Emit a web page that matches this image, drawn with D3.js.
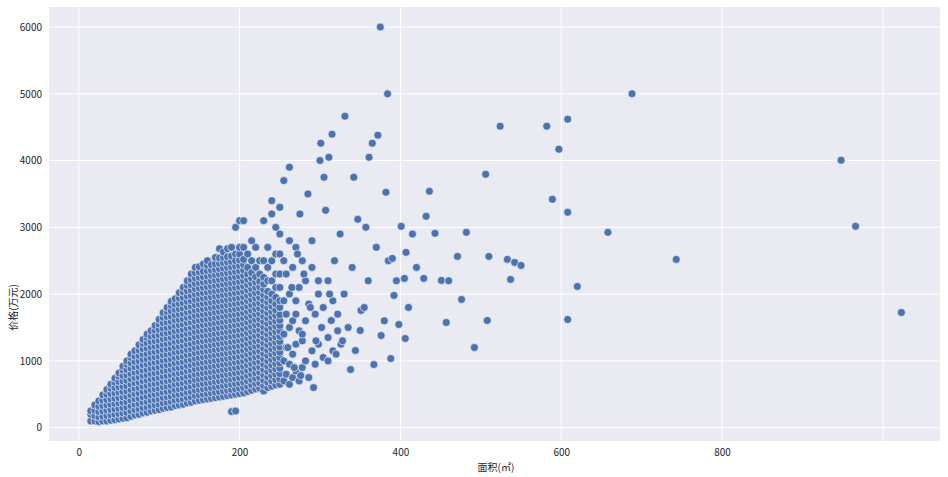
<!DOCTYPE html>
<html><head><meta charset="utf-8">
<script src="https://cdn.jsdelivr.net/npm/d3@7"></script>
<style>body{margin:0;background:#fff}text{font-family:"Noto Sans CJK SC","DejaVu Sans",sans-serif}</style>
</head><body><div id="chart"></div>
<script>
// dense cloud: one column per area value, prices
const denseAreas = [15,20,25,30,35,40,45,50,55,60,65,70,75,80,85,90,95,100,105,110,115,120,125,130,135,140,145,150,155,160,165,170,175,180,185,190,195,200,205,210,215,220,225,230,235,240,245,250];
const densePrices = [
  [100,200,250],
  [100,180,260,340],
  [90,160,240,320,400],
  [100,170,250,330,410,490],
  [100,180,260,340,420,500,570],
  [110,190,270,350,430,510,590,650],
  [120,200,280,360,440,520,600,680,740],
  [130,210,290,370,450,530,610,690,770,820],
  [140,220,300,380,460,540,620,700,780,860,920],
  [150,230,310,390,470,550,630,710,790,870,950,1000],
  [170,250,330,410,490,570,650,730,810,890,970,1050,1100],
  [190,270,350,430,510,590,670,750,830,910,990,1070,1150],
  [200,280,360,440,520,600,680,760,840,920,1000,1080,1160,1240],
  [220,300,380,460,540,620,700,780,860,940,1020,1100,1180,1260,1320],
  [230,310,390,470,550,630,710,790,870,950,1030,1110,1190,1270,1350,1400],
  [250,330,410,490,570,650,730,810,890,970,1050,1130,1210,1290,1370,1450],
  [260,340,420,500,580,660,740,820,900,980,1060,1140,1220,1300,1380,1460,1530],
  [270,350,430,510,590,670,750,830,910,990,1070,1150,1230,1310,1390,1470,1550,1620],
  [290,370,450,530,610,690,770,850,930,1010,1090,1170,1250,1330,1410,1490,1570,1650,1720],
  [300,380,460,540,620,700,780,860,940,1020,1100,1180,1260,1340,1420,1500,1580,1660,1740,1800],
  [310,390,470,550,630,710,790,870,950,1030,1110,1190,1270,1350,1430,1510,1590,1670,1750,1830,1890],
  [330,410,490,570,650,730,810,890,970,1050,1130,1210,1290,1370,1450,1530,1610,1690,1770,1850,1930],
  [340,420,500,580,660,740,820,900,980,1060,1140,1220,1300,1380,1460,1540,1620,1700,1780,1860,1940,2020],
  [350,430,510,590,670,750,830,910,990,1070,1150,1230,1310,1390,1470,1550,1630,1710,1790,1870,1950,2030,2100],
  [370,450,530,610,690,770,850,930,1010,1090,1170,1250,1330,1410,1490,1570,1650,1730,1810,1890,1970,2050,2130,2200],
  [380,460,540,620,700,780,860,940,1020,1100,1180,1260,1340,1420,1500,1580,1660,1740,1820,1900,1980,2060,2140,2220,2300],
  [400,480,560,640,720,800,880,960,1040,1120,1200,1280,1360,1440,1520,1600,1680,1760,1840,1920,2000,2080,2160,2240,2320,2400],
  [410,490,570,650,730,810,890,970,1050,1130,1210,1290,1370,1450,1530,1610,1690,1770,1850,1930,2010,2090,2170,2250,2330,2410],
  [420,500,580,660,740,820,900,980,1060,1140,1220,1300,1380,1460,1540,1620,1700,1780,1860,1940,2020,2100,2180,2260,2340,2450],
  [430,510,590,670,750,830,910,990,1070,1150,1230,1310,1390,1470,1550,1630,1710,1790,1870,1950,2030,2110,2190,2270,2350,2430,2500],
  [440,520,600,680,760,840,920,1000,1080,1160,1240,1320,1400,1480,1560,1640,1720,1800,1880,1960,2040,2120,2200,2280,2360,2440],
  [450,530,610,690,770,850,930,1010,1090,1170,1250,1330,1410,1490,1570,1650,1730,1810,1890,1970,2050,2130,2210,2290,2370,2450,2550],
  [460,540,620,700,780,860,940,1020,1100,1180,1260,1340,1420,1500,1580,1660,1740,1820,1900,1980,2060,2140,2220,2300,2380,2460,2540,2680],
  [470,550,630,710,790,870,950,1030,1110,1190,1270,1350,1430,1510,1590,1670,1750,1830,1910,1990,2070,2150,2230,2310,2390,2470,2550,2630],
  [480,560,640,720,800,880,960,1040,1120,1200,1280,1360,1440,1520,1600,1680,1760,1840,1920,2000,2080,2160,2240,2320,2400,2480,2560,2680],
  [240,490,570,650,730,810,890,970,1050,1130,1210,1290,1370,1450,1530,1610,1690,1770,1850,1930,2010,2090,2170,2250,2330,2410,2490,2570,2700],
  [250,500,580,660,740,820,900,980,1060,1140,1220,1300,1380,1460,1540,1620,1700,1780,1860,1940,2020,2100,2180,2260,2340,2420,2500,2600,3000],
  [510,590,670,750,830,910,990,1070,1150,1230,1310,1390,1470,1550,1630,1710,1790,1870,1950,2030,2110,2190,2270,2350,2430,2510,2600,2700,3100],
  [520,600,680,760,840,920,1000,1080,1160,1240,1320,1400,1480,1560,1640,1720,1800,1880,1960,2040,2120,2200,2280,2360,2440,2520,2700,3100],
  [540,620,700,780,860,940,1020,1100,1180,1260,1340,1420,1500,1580,1660,1740,1820,1900,1980,2060,2140,2220,2300,2400,2600],
  [560,640,720,800,880,960,1040,1120,1200,1280,1360,1440,1520,1600,1680,1760,1840,1920,2000,2080,2160,2240,2320,2500,2800],
  [580,660,740,820,900,980,1060,1140,1220,1300,1380,1460,1540,1620,1700,1780,1860,1940,2020,2100,2180,2260,2400,2700],
  [590,670,750,830,910,990,1070,1150,1230,1310,1390,1470,1550,1630,1710,1790,1870,1950,2030,2110,2190,2300,2500],
  [550,630,710,790,870,950,1030,1110,1190,1270,1350,1430,1510,1590,1670,1750,1830,1910,1990,2070,2150,2250,2500,3100],
  [600,680,760,840,920,1000,1080,1160,1240,1320,1400,1480,1560,1640,1720,1800,1880,1960,2040,2200,2400,2700],
  [620,700,780,860,940,1020,1100,1180,1260,1340,1420,1500,1580,1660,1740,1820,1900,2000,2200,2500,3200,3400],
  [640,720,800,880,960,1040,1120,1200,1280,1360,1440,1520,1600,1680,1760,1850,1950,2100,2300,2600,3000],
  [650,730,810,890,970,1050,1130,1210,1290,1370,1450,1530,1610,1690,1800,1900,2100,2300,2600,2900,3300]
];
// sparser band just past the cloud (areas 255-330)
const midArea = [255,255,255,255,255,258,258,258,258,262,262,262,262,262,266,266,266,266,270,270,270,270,274,274,274,278,278,278,282,282,282,286,286,290,290,294,294,298,298,304,304,310,310,316,316,322,326];
const midPrice = [700,1000,1400,1900,2500,800,1200,1700,2300,650,950,1500,2000,2800,750,1100,1600,2400,850,1250,1900,2700,700,1450,2100,900,1300,2500,1000,1600,2200,750,1850,1150,2400,950,1700,1250,2000,1050,1800,1350,2200,1150,1900,1450,1250];
// outliers, read one by one
const sparseArea = [255,260,262,265,268,270,272,275,276,278,280,282,285,288,290,292,295,298,300,301,302,305,307,310,311,312,314,315,318,320,322,325,328,330,331,335,338,340,342,344,347,350,351,355,357,360,361,365,367,370,372,375,376,380,382,384,385,388,390,392,395,398,401,405,406,407,410,415,420,429,432,436,443,451,457,460,471,476,482,492,506,508,510,524,533,537,542,550,582,589,597,608,608,608,620,658,688,743,948,966,1023];
const sparsePrice = [3700,1200,3900,2100,900,1700,2600,3200,780,1400,2300,1000,3500,1800,2800,600,1300,2200,4000,4260,1500,3750,3255,1000,4050,2000,1605,4395,2500,1100,1700,2900,1300,2000,4665,1500,870,2400,3750,1155,3120,1455,1755,1800,3000,2200,4050,4260,945,2700,4380,6000,1380,1600,3525,5000,2500,1035,2535,1980,2200,1545,3015,2235,1335,2625,1800,2900,2400,2235,3165,3540,2910,2205,1575,2200,2565,1920,2925,1200,3795,1605,2565,4515,2520,2220,2475,2430,4515,3420,4170,4620,3225,1620,2115,2925,5000,2520,4005,3015,1725];

const points = [];
denseAreas.forEach((a, i) => densePrices[i].forEach(p => points.push([a, p])));
midArea.forEach((a, i) => points.push([a, midPrice[i]]));
sparseArea.forEach((a, i) => points.push([a, sparsePrice[i]]));

const W = 948, H = 477;
const m = {left: 49, right: 8, top: 7, bottom: 36};
const svg = d3.select("#chart").append("svg").attr("width", W).attr("height", H);
const x = d3.scaleLinear().domain([-37, 1071]).range([m.left, W - m.right]);
const y = d3.scaleLinear().domain([-200, 6300]).range([H - m.bottom, m.top]);

svg.append("rect").attr("x", m.left).attr("y", m.top)
   .attr("width", W - m.left - m.right).attr("height", H - m.top - m.bottom)
   .attr("fill", "#eaeaf2");

const xt = [0, 200, 400, 600, 800, 1000];
const yt = [0, 1000, 2000, 3000, 4000, 5000, 6000];
const grid = svg.append("g").attr("stroke", "#fff").attr("stroke-width", 1);
xt.forEach(v => grid.append("line").attr("x1", x(v)).attr("x2", x(v)).attr("y1", m.top).attr("y2", H - m.bottom));
yt.forEach(v => grid.append("line").attr("y1", y(v)).attr("y2", y(v)).attr("x1", m.left).attr("x2", W - m.right));

svg.append("g").selectAll("circle").data(points).enter().append("circle")
   .attr("cx", d => x(d[0])).attr("cy", d => y(d[1])).attr("r", 4)
   .attr("fill", "#4c72b0").attr("stroke", "#fff").attr("stroke-width", 0.6);

const xAxis = svg.append("g").attr("transform", `translate(0,${H - m.bottom})`)
   .call(d3.axisBottom(x).tickValues(xt.slice(0, 5)).tickFormat(d3.format("d")).tickSize(0).tickPadding(8));
const yAxis = svg.append("g").attr("transform", `translate(${m.left},0)`)
   .call(d3.axisLeft(y).tickValues(yt).tickFormat(d3.format("d")).tickSize(0).tickPadding(7));
[xAxis, yAxis].forEach(a => {
  a.select(".domain").remove();
  a.selectAll("text").attr("fill", "#262626").style("font-size", "10px");
});

svg.append("text").attr("x", 496).attr("y", 471).attr("text-anchor", "middle")
   .attr("font-size", 10).attr("fill", "#262626").text("面积(㎡)");
svg.append("text").attr("transform", `translate(17,${y(1800)}) rotate(-90)`).attr("text-anchor", "middle")
   .attr("font-size", 10).attr("fill", "#262626").text("价格(万元)");
</script></body></html>
